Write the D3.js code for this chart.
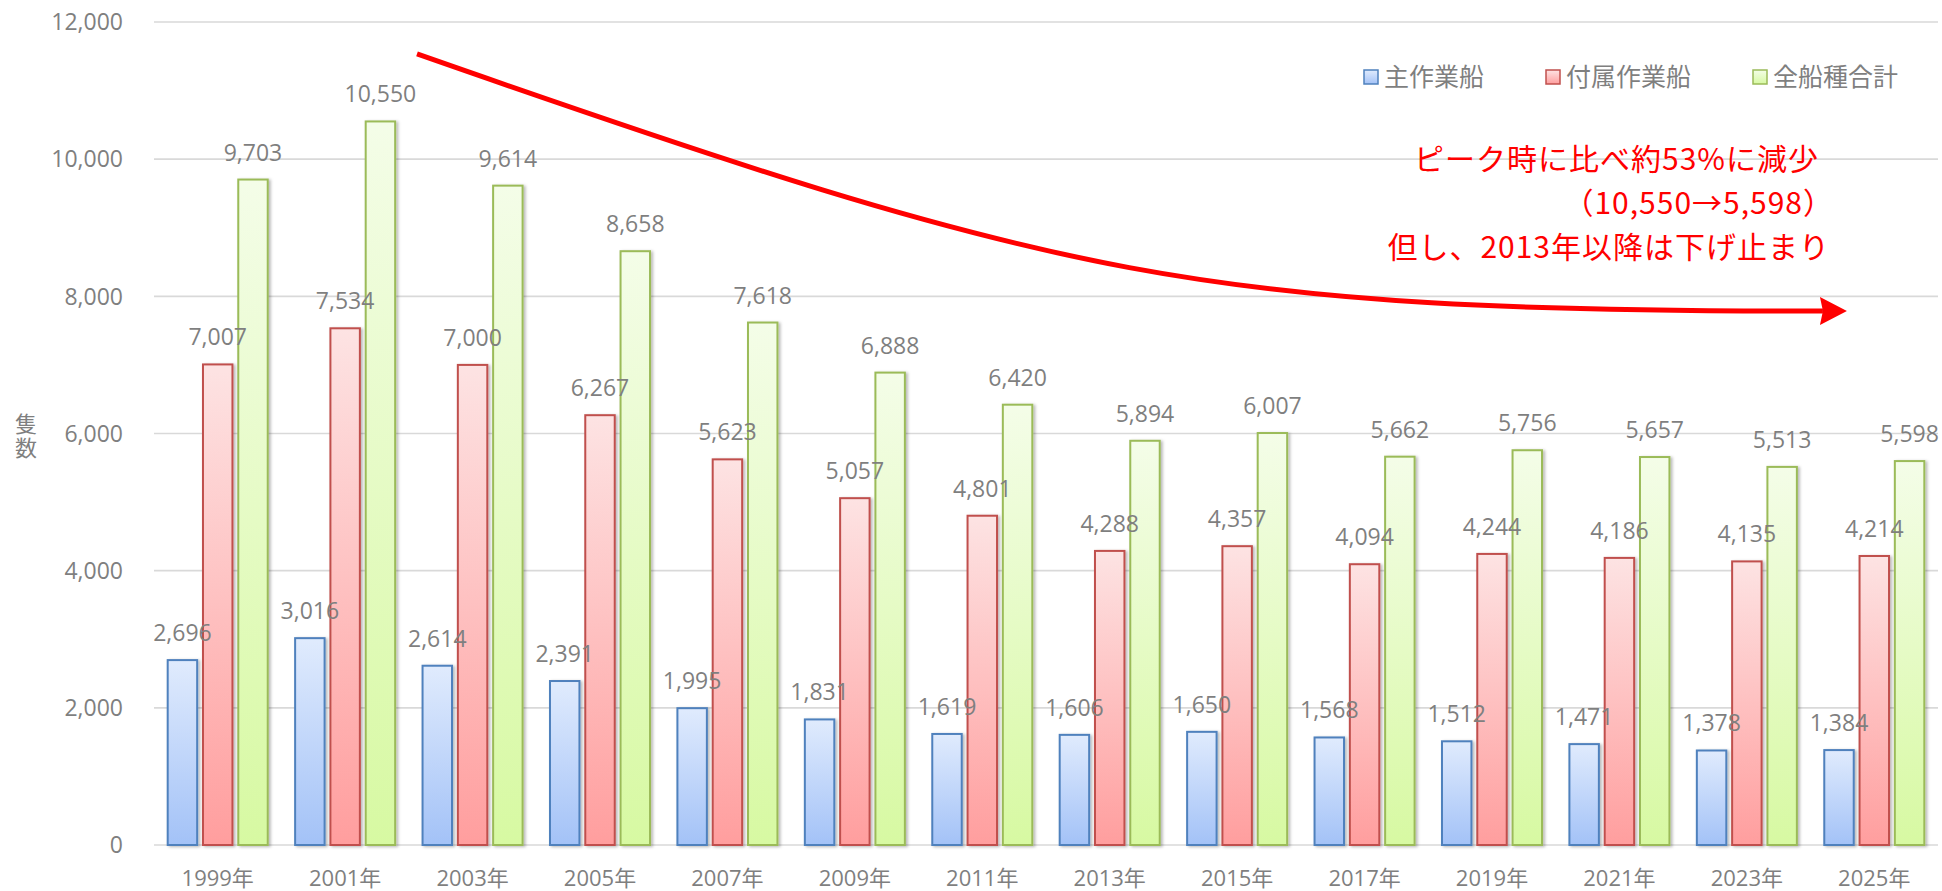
<!DOCTYPE html>
<html>
<head>
<meta charset="utf-8">
<script src="https://cdn.jsdelivr.net/npm/d3@7"></script>
<style>
	body { margin: 0; background: #ffffff; }
	svg { display: block; }
</style>
</head>
<body>
<svg id="chart" width="1942" height="891"></svg>
<script>
// DATA
const years = ['1999年', '2001年', '2003年', '2005年', '2007年', '2009年', '2011年', '2013年', '2015年', '2017年', '2019年', '2021年', '2023年', '2025年'];
const mainBoats = [2696, 3016, 2614, 2391, 1995, 1831, 1619, 1606, 1650, 1568, 1512, 1471, 1378, 1384];
const attachedBoats = [7007, 7534, 7000, 6267, 5623, 5057, 4801, 4288, 4357, 4094, 4244, 4186, 4135, 4214];
const totalBoats = [9703, 10550, 9614, 8658, 7618, 6888, 6420, 5894, 6007, 5662, 5756, 5657, 5513, 5598];
const seriesNames = ['主作業船', '付属作業船', '全船種合計'];
const yTicks = [0, 2000, 4000, 6000, 8000, 10000, 12000];
const noteLines = ['ピーク時に比べ約53%に減少', '（10,550→5,598）', '但し、2013年以降は下げ止まり'];
// arrow guide in (category index, value) space
const arrowPoints = [[2.064, 11534], [7.149, 8224], [8.208, 7786], [13.097, 7786]];

// CONSTANTS
const svg = d3.select('#chart');
const plotLeft = 154;
const plotRight = 1938;
const plotTop = 22;
const plotBottom = 845;
const textGray = '#7f7f7f';
const numFont = '"Open Sans", "Noto Sans CJK JP", sans-serif';
const jpFont = '"Noto Sans CJK JP", sans-serif';
const seriesStyles = [
	{ top: '#e0ebfd', bottom: '#a3c2f7', stroke: '#4f81bd' },
	{ top: '#fde3e3', bottom: '#ff9e9e', stroke: '#c0504d' },
	{ top: '#f4fde8', bottom: '#d7f9a2', stroke: '#9bbb59' }
];

const seriesValues = [mainBoats, attachedBoats, totalBoats];

// scales
const x0 = d3.scaleBand()
	.domain(years)
	.range([plotLeft, plotRight])
	.paddingInner(0.215)
	.paddingOuter(0.1075);

const x1 = d3.scaleBand()
	.domain(d3.range(3))
	.range([0, x0.bandwidth()])
	.paddingInner(0.165);

const xIndex = d3.scaleLinear().domain([0, years.length]).range([plotLeft, plotRight]);

const y = d3.scaleLinear().domain([0, 12000]).range([plotBottom, plotTop]);

const fmt = d3.format(',');

// defs: gradients, shadow, arrow marker
const defs = svg.append('defs');

seriesStyles.forEach(function(s, i){
	const g = defs.append('linearGradient')
		.attr('id', 'grad' + i)
		.attr('x1', 0).attr('y1', 0)
		.attr('x2', 0).attr('y2', 1);
	g.append('stop').attr('offset', '0%').attr('stop-color', s.top);
	g.append('stop').attr('offset', '100%').attr('stop-color', s.bottom);
});

defs.append('filter')
	.attr('id', 'shadow')
	.attr('x', '-20%').attr('y', '-5%')
	.attr('width', '150%').attr('height', '115%')
	.append('feDropShadow')
		.attr('dx', 2)
		.attr('dy', 1)
		.attr('stdDeviation', 1.8)
		.attr('flood-color', '#000')
		.attr('flood-opacity', 0.28);

defs.append('marker')
	.attr('id', 'arrowHead')
	.attr('markerUnits', 'userSpaceOnUse')
	.attr('viewBox', '0 -15 28 30')
	.attr('markerWidth', 28)
	.attr('markerHeight', 30)
	.attr('refX', 3)
	.attr('refY', 0)
	.attr('orient', 'auto')
	.append('path')
		.attr('d', 'M0,-14 L27,0 L0,14 L3,0 Z')
		.attr('fill', '#ff0000');

// gridlines
svg.append('g')
	.attr('class', 'grid')
	.selectAll('line')
	.data(yTicks)
	.join('line')
		.attr('x1', plotLeft)
		.attr('x2', plotRight)
		.attr('y1', d => y(d))
		.attr('y2', d => y(d))
		.attr('stroke', '#d9d9d9')
		.attr('stroke-width', 1.6);

// y tick labels
svg.append('g')
	.selectAll('text')
	.data(yTicks)
	.join('text')
		.attr('x', 123)
		.attr('y', d => y(d))
		.attr('dy', '0.36em')
		.attr('text-anchor', 'end')
		.attr('font-family', numFont)
		.attr('font-size', '23px')
		.attr('fill', textGray)
		.text(d => fmt(d));

// y axis title (vertical, one text element)
svg.append('text')
	.attr('x', 26)
	.attr('y', 437)
	.attr('writing-mode', 'vertical-rl')
	.attr('text-anchor', 'middle')
	.attr('font-family', jpFont)
	.attr('font-size', '22px')
	.attr('letter-spacing', '2px')
	.attr('fill', textGray)
	.text('隻数');

// bars
const groups = svg.append('g')
	.selectAll('g')
	.data(years)
	.join('g')
		.attr('transform', d => 'translate(' + x0(d) + ',0)');

groups.selectAll('rect')
	.data((d, i) => seriesValues.map((vals, s) => ({ s: s, v: vals[i] })))
	.join('rect')
		.attr('x', d => x1(d.s))
		.attr('y', d => y(d.v))
		.attr('width', x1.bandwidth())
		.attr('height', d => y(0) - y(d.v))
		.attr('fill', d => 'url(#grad' + d.s + ')')
		.attr('stroke', d => seriesStyles[d.s].stroke)
		.attr('stroke-width', 2)
		.attr('filter', 'url(#shadow)');

// data labels
groups.selectAll('text')
	.data((d, i) => seriesValues.map((vals, s) => ({ s: s, v: vals[i] })))
	.join('text')
		.attr('x', d => x1(d.s) + x1.bandwidth() / 2)
		.attr('y', d => y(d.v) - 19)
		.attr('text-anchor', 'middle')
		.attr('font-family', numFont)
		.attr('font-size', '23px')
		.attr('fill', textGray)
		.text(d => fmt(d.v));

// x labels
svg.append('g')
	.selectAll('text')
	.data(years)
	.join('text')
		.attr('x', d => x0(d) + x0.bandwidth() / 2)
		.attr('y', 886)
		.attr('text-anchor', 'middle')
		.attr('font-family', numFont)
		.attr('font-size', '22px')
		.attr('fill', textGray)
		.text(d => d);

// legend
const legendFont = 25;
let legendX = 1364;
seriesNames.forEach(function(name, i){
	const item = svg.append('g').attr('transform', 'translate(' + legendX + ',70)');
	item.append('rect')
		.attr('x', 0)
		.attr('y', 0)
		.attr('width', 14)
		.attr('height', 14)
		.attr('fill', 'url(#grad' + i + ')')
		.attr('stroke', seriesStyles[i].stroke)
		.attr('stroke-width', 1.5);
	item.append('text')
		.attr('x', 20)
		.attr('y', 7)
		.attr('dy', '0.36em')
		.attr('font-family', jpFont)
		.attr('font-size', legendFont + 'px')
		.attr('fill', textGray)
		.text(name);
	legendX = legendX + 20 + name.length * legendFont + 62;
});

// trend arrow
const curve = d3.path();
const pts = arrowPoints.map(p => [xIndex(p[0]), y(p[1])]);
curve.moveTo(pts[0][0], pts[0][1]);
curve.bezierCurveTo(pts[1][0], pts[1][1], pts[2][0], pts[2][1], pts[3][0], pts[3][1]);

svg.append('path')
	.attr('d', curve.toString())
	.attr('fill', 'none')
	.attr('stroke', '#ff0000')
	.attr('stroke-width', 5)
	.attr('marker-end', 'url(#arrowHead)');

// annotation
svg.append('g')
	.selectAll('text')
	.data(noteLines)
	.join('text')
		.attr('x', (d, i) => [1819, 1834, 1830][i])
		.attr('y', (d, i) => [170, 214, 258][i])
		.attr('text-anchor', 'end')
		.attr('font-family', jpFont)
		.attr('font-size', '30px')
		.attr('letter-spacing', '1px')
		.attr('fill', '#ff0000')
		.text(d => d);
</script>
</body>
</html>
